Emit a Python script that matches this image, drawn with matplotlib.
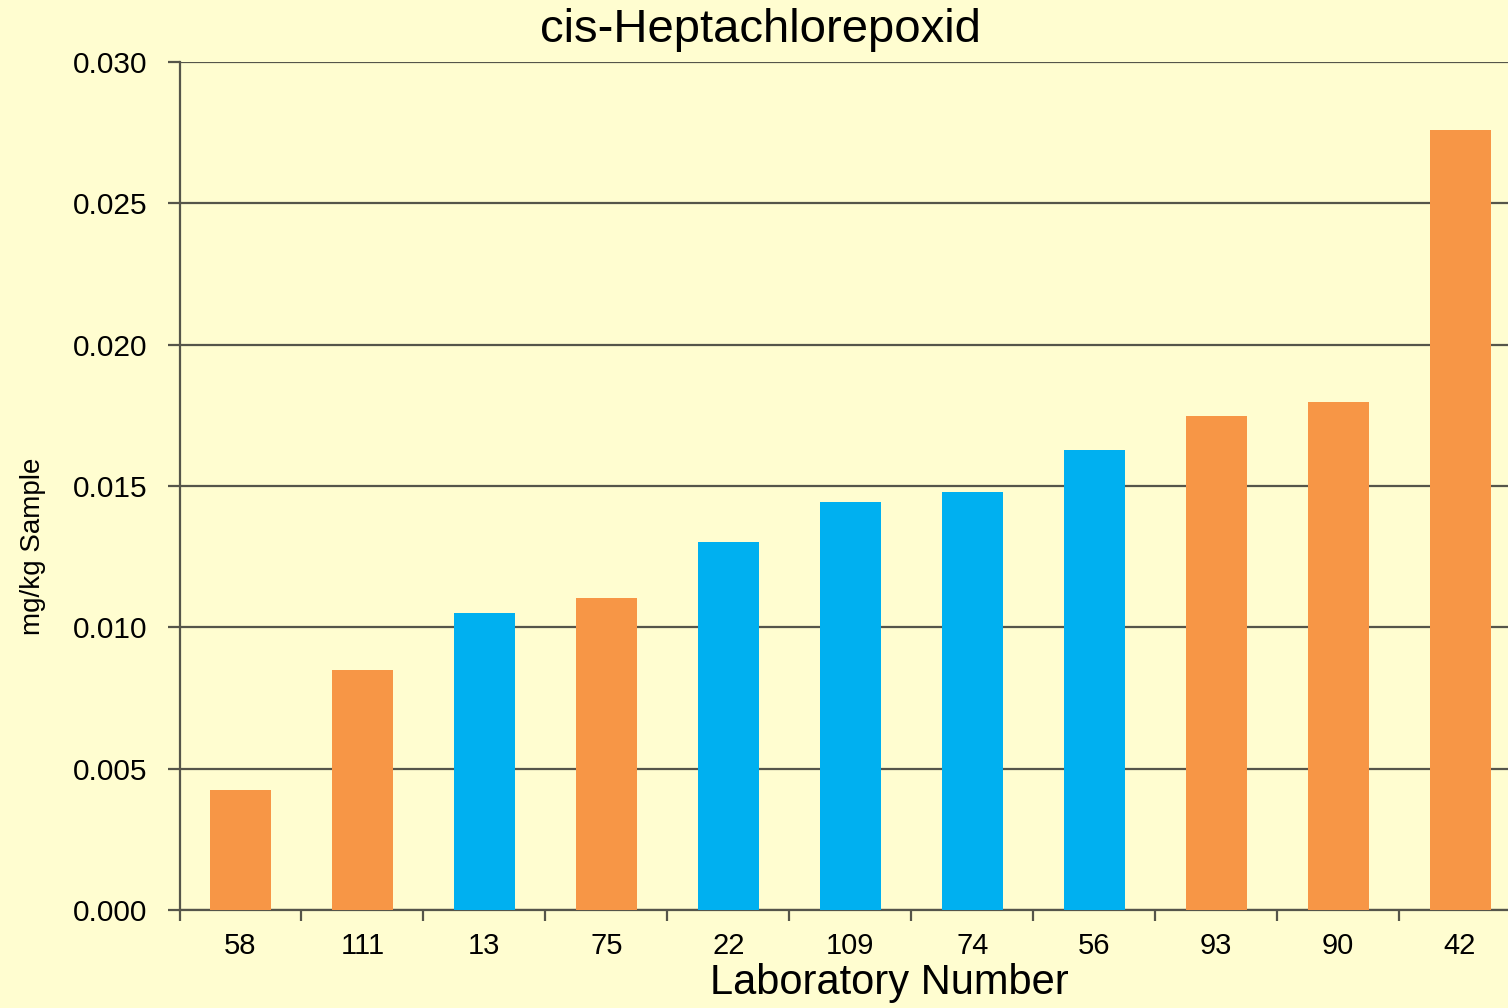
import numpy as np
import matplotlib
matplotlib.use('Agg')
import matplotlib.pyplot as plt

# Data
labs = ['58', '111', '13', '75', '22', '109', '74', '56', '93', '90', '42']
values = [0.00425, 0.00849, 0.01051, 0.01104, 0.01302, 0.01443,
          0.01479, 0.01627, 0.01748, 0.01797, 0.02759]
groups = ['out', 'out', 'in', 'out', 'in', 'in', 'in', 'in', 'out', 'out', 'out']

bg = '#FFFDD0'
orange = '#F79646'
blue = '#00B0F0'
line_col = '#55554A'
colors = [blue if g == 'in' else orange for g in groups]

plt.rcParams['font.family'] = ['Liberation Sans', 'DejaVu Sans']

fig = plt.figure(figsize=(15.08, 10.08), dpi=100, facecolor=bg)
ax = fig.add_axes([179.5 / 1508, 98 / 1008, (1521 - 179.5) / 1508, 848 / 1008])
ax.set_facecolor(bg)

x = np.arange(len(labs))
ax.bar(x, values, width=0.5, color=colors, zorder=3)

ax.set_xlim(-0.5, len(labs) - 0.5)
ax.set_ylim(0, 0.030)
ax.set_yticks(np.arange(0, 0.0301, 0.005))
ax.set_yticklabels(['%.3f' % v for v in np.arange(0, 0.0301, 0.005)], fontsize=21.5)
ax.yaxis.grid(True, color=line_col, linewidth=1.6, zorder=1)

# category labels at centres, tick marks at boundaries
ax.set_xticks(x)
ax.set_xticklabels(labs, fontsize=21)
ax.tick_params(axis='x', length=0, pad=16)
ax.set_xticks(np.arange(-0.5, len(labs), 1), minor=True)
ax.tick_params(axis='x', which='minor', length=8, width=1.6, color=line_col, direction='out')
ax.tick_params(axis='y', length=9, width=1.6, color=line_col, pad=14)

for s in ['top', 'right']:
    ax.spines[s].set_visible(False)
for s in ['left', 'bottom']:
    ax.spines[s].set_color(line_col)
    ax.spines[s].set_linewidth(1.6)

fig.text(760 / 1508, 1 - 30 / 1008, 'cis-Heptachlorepoxid', fontsize=34,
         ha='center', va='center')
fig.text(889 / 1508, 1 - 983 / 1008, 'Laboratory Number', fontsize=30,
         ha='center', va='center')
fig.text(33 / 1508, 1 - 546 / 1008, 'mg/kg Sample', fontsize=20,
         rotation=90, ha='center', va='center')

plt.savefig('out.png', dpi=100, facecolor=bg)
